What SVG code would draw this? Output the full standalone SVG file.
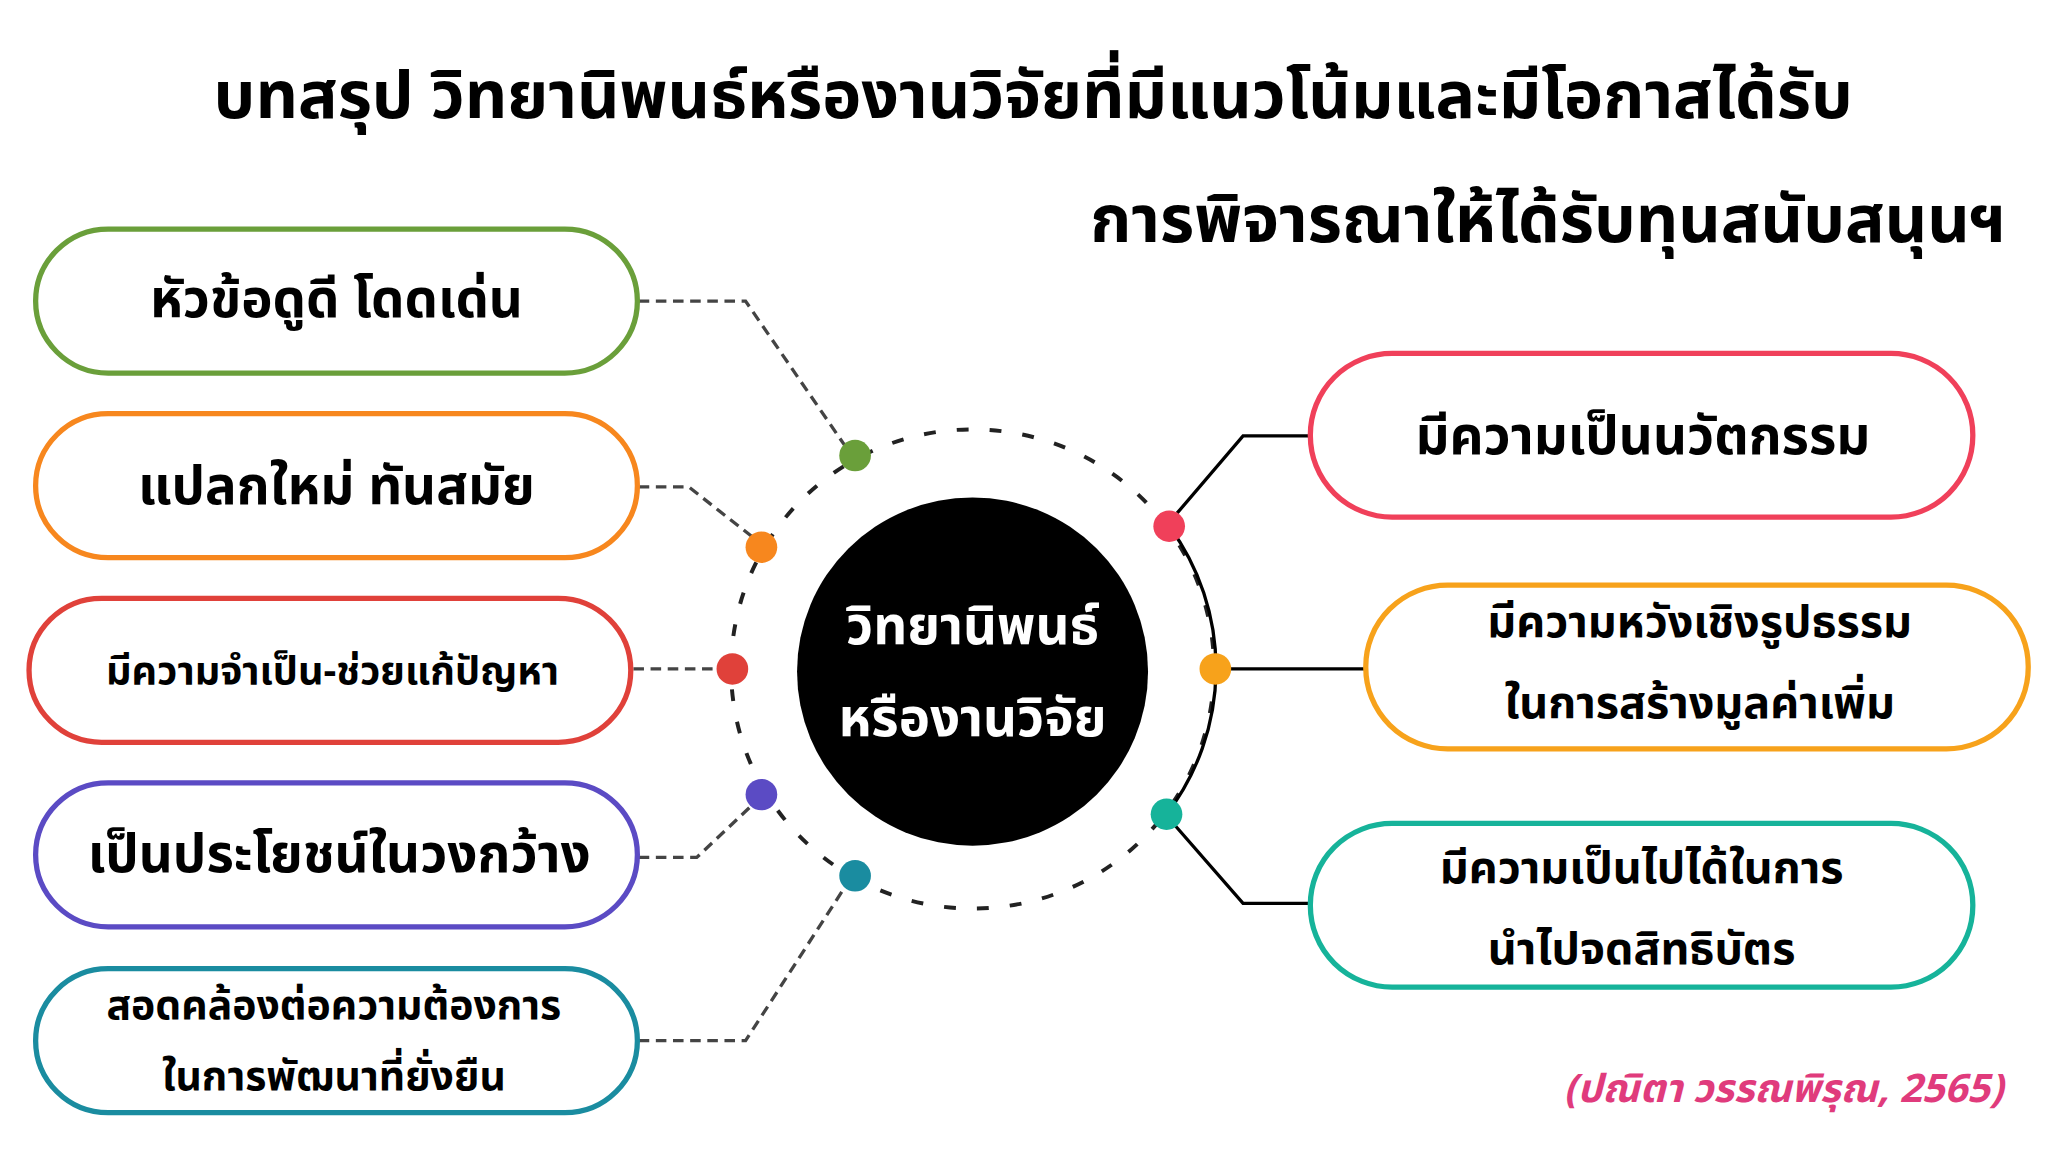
<svg xmlns="http://www.w3.org/2000/svg" width="2048" height="1152" viewBox="0 0 2048 1152">
<style>
text{font-family:"Noto Sans Thai","Noto Sans","Tahoma",sans-serif;font-weight:700;fill:#000;text-anchor:middle;dominant-baseline:central}
.pill{fill:#fff;stroke-width:4}
.dash{fill:none;stroke:#444;stroke-width:2.5;stroke-dasharray:8 5}
.solid{fill:none;stroke:#000;stroke-width:2.5}
</style>
<rect width="2048" height="1152" fill="#fff"/>
<g transform="scale(1.3196,1.3091)">
<g id="title">
<text x="783" y="75" font-size="50">บทสรุป วิทยานิพนธ์หรืองานวิจัยที่มีแนวโน้มและมีโอกาสได้รับ</text>
<text x="1520" y="170" font-size="50" style="text-anchor:end">การพิจารณาให้ได้รับทุนสนับสนุนฯ</text>
</g>
<g id="connectors">
<circle cx="737" cy="511" r="183" fill="none" stroke="#222" stroke-width="3" stroke-dasharray="9 16"/>
<path class="solid" d="M886,402 A184,184 0 0 1 884,622" stroke-width="3"/>
<path class="dash" d="M484,230 H565 L640,340"/>
<path class="dash" d="M484,372 H522 L570,410"/>
<path class="dash" d="M480,511 H543"/>
<path class="dash" d="M484,655 H528 L570,615"/>
<path class="dash" d="M484,795 H565 L640,678"/>
<path class="solid" d="M892,392 L942,333 H993"/>
<path class="solid" d="M921,511 H1035"/>
<path class="solid" d="M890,630 L942,690 H993"/>
</g>
<g id="dots">
<circle cx="648" cy="348" r="12" fill="#6a9f3a"/>
<circle cx="577" cy="418" r="12" fill="#f7871e"/>
<circle cx="555" cy="511" r="12" fill="#e0413a"/>
<circle cx="577" cy="607" r="12" fill="#5b4bc4"/>
<circle cx="648" cy="669" r="12" fill="#1a8ca0"/>
<circle cx="886" cy="402" r="12" fill="#f0405a"/>
<circle cx="921" cy="511" r="12" fill="#f7a21b"/>
<circle cx="884" cy="622" r="12" fill="#16b39a"/>
</g>
<g id="center">
<circle cx="737" cy="513" r="133" fill="#000"/>
<text x="737" y="480" font-size="40" style="fill:#fff">วิทยานิพนธ์</text>
<text x="737" y="550" font-size="40" style="fill:#fff">หรืองานวิจัย</text>
</g>
<g id="n1"><rect class="pill" x="27" y="175" width="456" height="110" rx="55" stroke="#6a9f3a"/><text x="255" y="230" font-size="40">หัวข้อดูดี โดดเด่น</text></g>
<g id="n2"><rect class="pill" x="27" y="316" width="456" height="110" rx="55" stroke="#f7871e"/><text x="255" y="373" font-size="40">แปลกใหม่ ทันสมัย</text></g>
<g id="n3"><rect class="pill" x="22" y="457" width="456" height="110" rx="55" stroke="#e0413a"/><text x="252" y="513" font-size="30">มีความจำเป็น-ช่วยแก้ปัญหา</text></g>
<g id="n4"><rect class="pill" x="27" y="598" width="456" height="110" rx="55" stroke="#5b4bc4"/><text x="257" y="654" font-size="40">เป็นประโยชน์ในวงกว้าง</text></g>
<g id="n5"><rect class="pill" x="27" y="740" width="456" height="110" rx="55" stroke="#1a8ca0"/><text x="253" y="769" font-size="31">สอดคล้องต่อความต้องการ</text><text x="253" y="823" font-size="31">ในการพัฒนาที่ยั่งยืน</text></g>
<g id="n6"><rect class="pill" x="993" y="270" width="502" height="125" rx="62" stroke="#f0405a"/><text x="1245" y="335" font-size="40">มีความเป็นนวัตกรรม</text></g>
<g id="n7"><rect class="pill" x="1035" y="447" width="502" height="125" rx="62" stroke="#f7a21b"/><text x="1288" y="476" font-size="34">มีความหวังเชิงรูปธรรม</text><text x="1288" y="538" font-size="34">ในการสร้างมูลค่าเพิ่ม</text></g>
<g id="n8"><rect class="pill" x="993" y="629" width="502" height="125" rx="62" stroke="#16b39a"/><text x="1244" y="664" font-size="34">มีความเป็นไปได้ในการ</text><text x="1244" y="726" font-size="34">นำไปจดสิทธิบัตร</text></g>
<text x="1518" y="833" font-size="30" style="text-anchor:end;fill:#e03b7c;font-style:italic">(ปณิตา วรรณพิรุณ, 2565)</text>
</g>
</svg>
